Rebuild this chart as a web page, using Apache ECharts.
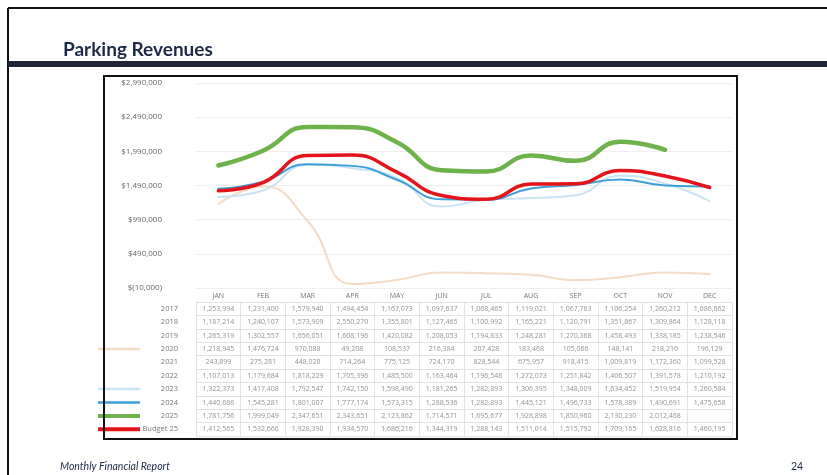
<!DOCTYPE html>
<html>
<head>
<meta charset="utf-8">
<script src="https://cdn.jsdelivr.net/npm/echarts@6/dist/echarts.min.js"></script>
<style>
  html, body { margin: 0; padding: 0; background: #ffffff; }
  #chart { width: 827px; height: 475px; }
</style>
</head>
<body>
<div id="chart"></div>
<script>
// Monthly parking revenues by year, with the FY25 budget
const months = ['JAN', 'FEB', 'MAR', 'APR', 'MAY', 'JUN', 'JUL', 'AUG', 'SEP', 'OCT', 'NOV', 'DEC'];

const y2017 = [1253994, 1231400, 1579940, 1494454, 1167073, 1097637, 1068465, 1119021, 1067763, 1106254, 1260212, 1086862];
const y2018 = [1187214, 1240107, 1573909, 2550270, 1355801, 1127465, 1100992, 1165221, 1120791, 1351867, 1309864, 1128118];
const y2019 = [1265319, 1302557, 1656051, 1608196, 1420082, 1208053, 1194833, 1248281, 1270368, 1458493, 1338185, 1238546];
const y2020 = [1218945, 1476724, 970088, 49208, 108537, 216384, 207428, 183468, 105066, 148141, 218210, 196129];
const y2021 = [243899, 275281, 448028, 714264, 775125, 724170, 828544, 675957, 918415, 1009819, 1172360, 1099528];
const y2022 = [1107013, 1179684, 1818229, 1705396, 1485500, 1163464, 1196548, 1272073, 1251842, 1406507, 1391578, 1210192];
const y2023 = [1322373, 1417408, 1792547, 1742150, 1598490, 1181265, 1282893, 1306395, 1348009, 1634452, 1519954, 1260584];
const y2024 = [1440686, 1545281, 1801007, 1777174, 1573315, 1288536, 1282893, 1445121, 1496733, 1578389, 1490691, 1475658];
const y2025 = [1781756, 1999049, 2347651, 2343651, 2123862, 1714571, 1695677, 1928898, 1850960, 2130230, 2012468, null];
const budget25 = [1412565, 1532666, 1928390, 1934570, 1686216, 1344319, 1288143, 1511014, 1515792, 1709165, 1628816, 1460195];

const rowNames = ['2017', '2018', '2019', '2020', '2021', '2022', '2023', '2024', '2025', 'Budget 25'];
const rowValues = [y2017, y2018, y2019, y2020, y2021, y2022, y2023, y2024, y2025, budget25];

// Only these years are plotted as lines; the rest appear in the table only
const lineColors = {
  '2020': '#f3dcc6',
  '2023': '#cbe4f3',
  '2024': '#3d9fd8',
  '2025': '#6db24a',
  'Budget 25': '#e4141b'
};
const lineWidths = { '2020': 2, '2023': 2, '2024': 2, '2025': 4.5, 'Budget 25': 3.5 };

const fmt = v => v.toLocaleString('en-US');
const fmtMoney = v => v < 0 ? '$(' + fmt(-v) + ')' : '$' + fmt(v);

const lineSeries = ['2020', '2023', '2024', '2025', 'Budget 25'].map(name => ({
  type: 'line',
  name: name,
  xAxisIndex: 0,
  yAxisIndex: 0,
  data: rowValues[rowNames.indexOf(name)],
  smooth: 0.5,
  symbol: 'none',
  lineStyle: { color: lineColors[name], width: lineWidths[name], cap: 'round' },
  z: 3
}));

// Table cells: one text label per [month, row]
const cellData = [];
rowValues.forEach((vals, r) => {
  vals.forEach((v, c) => {
    if (v !== null) cellData.push([c, r, v]);
  });
});

// Row labels with legend keys drawn as rich-text boxes
const rich = {
  t: { width: 38, align: 'right', fontSize: 7.5, color: '#777', fontFamily: 'Open Sans' },
  blank: { width: 42, height: 3 }
};
rowNames.forEach((n, i) => {
  if (lineColors[n]) {
    rich['k' + i] = { width: 42, height: lineWidths[n] >= 3.5 ? 4 : 2.5, backgroundColor: lineColors[n] };
  }
});

const chart = echarts.init(document.getElementById('chart'), null, { renderer: 'canvas' });

chart.setOption({
  animation: false,
  backgroundColor: '#ffffff',
  title: [
    {
      text: 'Parking Revenues',
      left: 58, top: 35,
      textStyle: { fontFamily: 'Lato', fontWeight: 'bold', fontSize: 19, color: '#1c2a48' }
    },
    {
      text: 'Monthly Financial Report',
      left: 55, top: 456,
      textStyle: { fontFamily: 'Lato', fontStyle: 'italic', fontWeight: 'normal', fontSize: 10.5, color: '#1c2a48' }
    },
    {
      text: '24',
      left: 786, top: 456,
      textStyle: { fontFamily: 'Lato', fontWeight: 'normal', fontSize: 10.5, color: '#1c2a48' }
    }
  ],
  graphic: [
    // slide frame
    { type: 'line', shape: { x1: 8, y1: 8, x2: 827, y2: 8 }, style: { stroke: '#111', lineWidth: 2 } },
    { type: 'line', shape: { x1: 8, y1: 8, x2: 8, y2: 475 }, style: { stroke: '#111', lineWidth: 2 } },
    // heading rule
    { type: 'rect', shape: { x: 8, y: 61, width: 819, height: 6 }, style: { fill: '#1e2535' } },
    // chart box
    { type: 'rect', shape: { x: 104, y: 76, width: 633, height: 363 }, style: { fill: 'none', stroke: '#111', lineWidth: 2 }, z: 10 }
  ],
  grid: [
    { left: 196, right: 95, top: 83, bottom: 187 },
    { left: 196, right: 95, top: 302, bottom: 39 }
  ],
  xAxis: [
    {
      type: 'category',
      gridIndex: 0,
      data: months,
      boundaryGap: true,
      axisLine: { show: false },
      axisTick: { show: false },
      axisLabel: { interval: 0, margin: 4, fontSize: 7, color: '#777', fontFamily: 'Open Sans' },
      splitLine: { show: false }
    },
    {
      type: 'category',
      gridIndex: 1,
      data: months,
      boundaryGap: true,
      axisLine: { show: false },
      axisTick: { show: false },
      axisLabel: { show: false },
      splitLine: { show: true, interval: 0, lineStyle: { color: '#e2e2e2', width: 1 } }
    }
  ],
  yAxis: [
    {
      type: 'value',
      gridIndex: 0,
      min: -10000,
      max: 2990000,
      interval: 500000,
      axisLine: { show: false },
      axisTick: { show: false },
      axisLabel: {
        margin: 34,
        fontSize: 8,
        color: '#666',
        fontFamily: 'Open Sans',
        formatter: v => fmtMoney(v)
      },
      splitLine: { show: true, lineStyle: { color: '#efefef', width: 1 } }
    },
    {
      type: 'category',
      gridIndex: 1,
      data: rowNames,
      inverse: true,
      boundaryGap: true,
      axisLine: { show: false },
      axisTick: { show: false },
      axisLabel: {
        interval: 0,
        margin: 18,
        formatter: (n, i) => (lineColors[n] ? '{k' + i + '|}' : '{blank|}') + '{t|' + n + '}',
        rich: rich
      },
      splitLine: { show: true, interval: 0, lineStyle: { color: '#e2e2e2', width: 1 } }
    }
  ],
  series: [
    ...lineSeries,
    {
      type: 'scatter',
      name: 'table',
      xAxisIndex: 1,
      yAxisIndex: 1,
      data: cellData,
      symbolSize: 0,
      silent: true,
      label: {
        show: true,
        position: 'inside',
        formatter: p => fmt(p.value[2]),
        fontSize: 7,
        color: '#777',
        fontFamily: 'Open Sans'
      }
    }
  ]
});
</script>
</body>
</html>
